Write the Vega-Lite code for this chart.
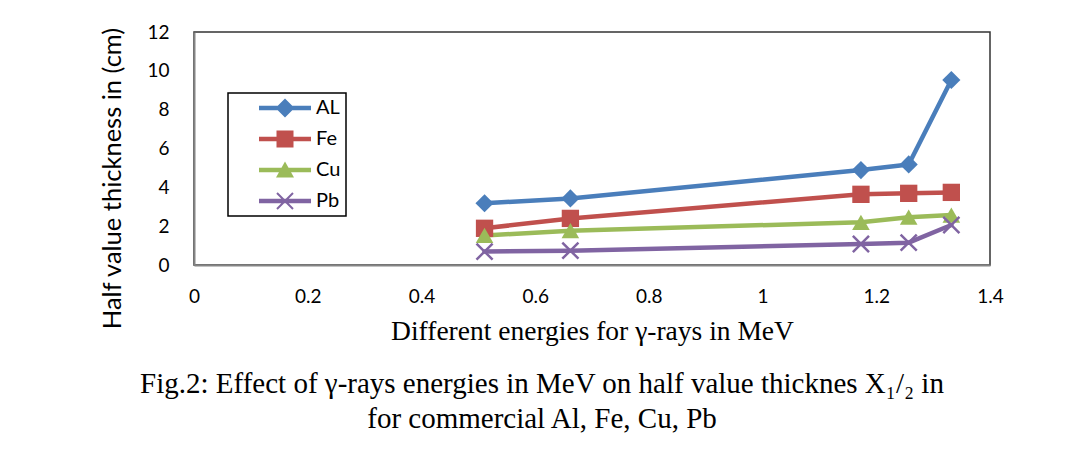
{
  "$schema": "https://vega.github.io/schema/vega-lite/v6.json",
  "autosize": {"type": "none"},
  "width": 796,
  "height": 233,
  "padding": {"left": 194, "top": 32, "right": 99, "bottom": 194},
  "background": "white",
  "data": {
    "values": [
      {"metal": "AL", "energy": 0.511, "hvt": 3.18},
      {"metal": "AL", "energy": 0.662, "hvt": 3.43},
      {"metal": "AL", "energy": 1.173, "hvt": 4.89},
      {"metal": "AL", "energy": 1.257, "hvt": 5.18},
      {"metal": "AL", "energy": 1.332, "hvt": 9.53},
      {"metal": "Fe", "energy": 0.511, "hvt": 1.89},
      {"metal": "Fe", "energy": 0.662, "hvt": 2.4},
      {"metal": "Fe", "energy": 1.173, "hvt": 3.64},
      {"metal": "Fe", "energy": 1.257, "hvt": 3.69},
      {"metal": "Fe", "energy": 1.332, "hvt": 3.74},
      {"metal": "Cu", "energy": 0.511, "hvt": 1.52},
      {"metal": "Cu", "energy": 0.662, "hvt": 1.77},
      {"metal": "Cu", "energy": 1.173, "hvt": 2.2},
      {"metal": "Cu", "energy": 1.257, "hvt": 2.46},
      {"metal": "Cu", "energy": 1.332, "hvt": 2.57},
      {"metal": "Pb", "energy": 0.511, "hvt": 0.69},
      {"metal": "Pb", "energy": 0.662, "hvt": 0.74},
      {"metal": "Pb", "energy": 1.173, "hvt": 1.08},
      {"metal": "Pb", "energy": 1.257, "hvt": 1.15},
      {"metal": "Pb", "energy": 1.332, "hvt": 2.06}
    ]
  },
  "title": {
    "text": "Fig.2: Effect of γ-rays energies in MeV on half value thicknes X₁/₂ in",
    "subtitle": "for commercial Al, Fe, Cu, Pb",
    "orient": "bottom",
    "anchor": "middle",
    "dx": -50,
    "offset": 25,
    "font": "Liberation Serif",
    "fontSize": 29,
    "fontWeight": "normal",
    "color": "black",
    "subtitleFont": "Liberation Serif",
    "subtitleFontSize": 29,
    "subtitleColor": "black",
    "subtitlePadding": 6
  },
  "config": {
    "view": {"stroke": "#333333", "strokeWidth": 1.5},
    "axis": {
      "grid": false,
      "ticks": false,
      "labelFont": "Lato",
      "labelFontSize": 19,
      "labelColor": "black",
      "labelFlush": false,
      "labelOverlap": false,
      "domainColor": "#858585",
      "domainWidth": 2
    }
  },
  "encoding": {
    "x": {
      "field": "energy",
      "type": "quantitative",
      "scale": {"domain": [0, 1.4], "nice": false, "zero": true},
      "axis": {
        "values": [0, 0.2, 0.4, 0.6, 0.8, 1, 1.2, 1.4],
        "format": "~g",
        "labelPadding": 22,
        "title": "Different energies for γ-rays in MeV",
        "titleFont": "Liberation Serif",
        "titleFontSize": 27.5,
        "titleFontWeight": "normal",
        "titleColor": "black",
        "titleAnchor": null,
        "titleX": 398,
        "titleY": 74,
        "titleBaseline": "alphabetic",
        "titleAlign": "center"
      }
    },
    "y": {
      "field": "hvt",
      "type": "quantitative",
      "scale": {"domain": [0, 12], "nice": false},
      "axis": {
        "values": [0, 2, 4, 6, 8, 10, 12],
        "format": "d",
        "labelPadding": 25,
        "title": "Half value thickness in (cm)",
        "titleFont": "Lato",
        "titleFontSize": 25.5,
        "titleFontWeight": "normal",
        "titleColor": "black",
        "titleAnchor": null,
        "titleAngle": 270,
        "titleX": -82,
        "titleY": 146,
        "titleBaseline": "middle",
        "titleAlign": "center"
      }
    },
    "color": {
      "field": "metal",
      "type": "nominal",
      "sort": ["AL", "Fe", "Cu", "Pb"],
      "scale": {"domain": ["AL", "Fe", "Cu", "Pb"], "range": ["#4a7ebb", "#c0504d", "#9bbb59", "#8064a2"]},
      "legend": {
        "orient": "none",
        "legendX": 34,
        "legendY": 61,
        "title": null,
        "padding": 5,
        "rowPadding": 11,
        "strokeColor": "black",
        "symbolSize": 400,
        "symbolOffset": 42,
        "labelOffset": 21,
        "labelFont": "Lato",
        "labelFontSize": 20,
        "labelColor": "black",
        "encode": {
          "legend": {"update": {"strokeWidth": {"value": 1.5}}},
          "symbols": {
            "update": {
              "stroke": {"value": "transparent"},
              "strokeWidth": {"value": 0},
              "opacity": {"value": 1}
            }
          }
        }
      }
    }
  },
  "layer": [
    {
      "mark": {"type": "line", "strokeWidth": 4.5, "strokeCap": "round", "strokeJoin": "round"},
      "encoding": {"order": {"field": "energy", "type": "quantitative"}}
    },
    {
      "transform": [{"filter": "datum.metal === 'AL'"}],
      "mark": {"type": "point", "shape": "diamond", "filled": true, "size": 330, "opacity": 1}
    },
    {
      "transform": [{"filter": "datum.metal === 'Fe'"}],
      "mark": {"type": "point", "shape": "square", "filled": true, "size": 300, "opacity": 1}
    },
    {
      "transform": [{"filter": "datum.metal === 'Cu'"}],
      "mark": {"type": "point", "shape": "triangle-up", "filled": true, "size": 310, "opacity": 1}
    },
    {
      "transform": [{"filter": "datum.metal === 'Pb'"}],
      "mark": {"type": "point", "shape": "M-1,-1L1,1M1,-1L-1,1", "filled": false, "size": 260, "strokeWidth": 2.5, "opacity": 1}
    },
    {
      "mark": {"type": "point", "filled": true, "opacity": 0, "size": 400},
      "encoding": {
        "shape": {
          "field": "metal",
          "type": "nominal",
          "scale": {
            "domain": ["AL", "Fe", "Cu", "Pb"],
            "range": [
              "M-2.6,-0.22H2.6V0.22H-2.6Z M0,-0.95L0.95,0L0,0.95L-0.95,0Z",
              "M-2.6,-0.22H2.6V0.22H-2.6Z M-0.85,-0.85H0.85V0.85H-0.85Z",
              "M-2.6,-0.22H2.6V0.22H-2.6Z M0,-0.85L0.9,0.75H-0.9Z",
              "M-2.6,-0.22H2.6V0.22H-2.6Z M-0.73,-0.87L0.87,0.73L0.73,0.87L-0.87,-0.73Z M0.87,-0.73L-0.73,0.87L-0.87,0.73L0.73,-0.87Z"
            ]
          }
        }
      }
    }
  ]
}
